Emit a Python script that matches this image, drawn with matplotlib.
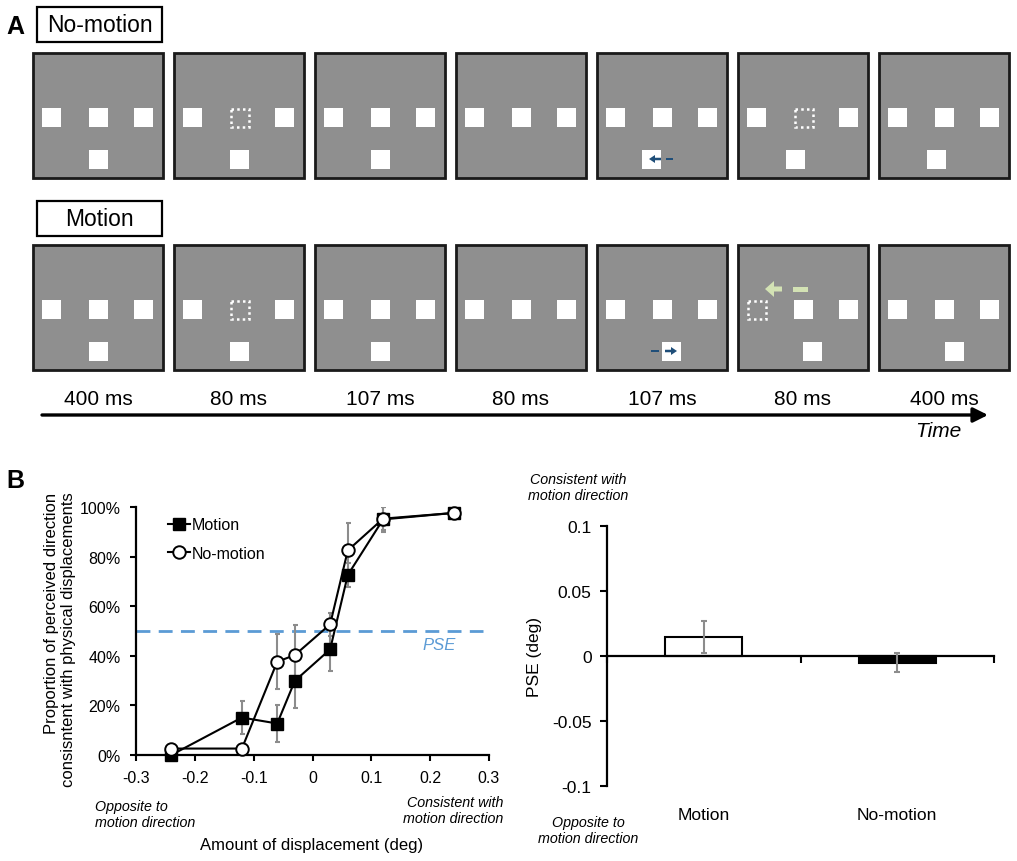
import numpy as np
import matplotlib
matplotlib.use("Agg")
import matplotlib.pyplot as plt
from matplotlib.patches import Rectangle, FancyArrow

plt.rcParams['font.family'] = ['Liberation Sans', 'DejaVu Sans']

# panel A: trial sequence
durations = ["400 ms", "80 ms", "107 ms", "80 ms", "107 ms", "80 ms", "400 ms"]
# S = solid square, D = dotted (blank) square for the left / mid / right slots
top_nomotion = ["SSS", "SDS", "SSS", "SSS", "SSS", "SDS", "SSS"]
top_motion = ["SSS", "SDS", "SSS", "SSS", "SSS", "DSS", "SSS"]
# shift of the lower square (px), None = no lower square
low_nomotion = [0, 0, 0, None, -11, -8, -8]
low_motion = [0, 0, 0, None, 9, 9, 10]

# panel B left: psychometric data
displacement = [-0.24, -0.12, -0.06, -0.03, 0.03, 0.06, 0.12, 0.24]
motion_prop = [0.0, 0.151, 0.127, 0.299, 0.426, 0.726, 0.950, 0.976]
motion_err = [0.005, 0.066, 0.074, 0.108, 0.086, 0.05, 0.05, 0.01]
nomotion_prop = [0.026, 0.026, 0.376, 0.403, 0.527, 0.825, 0.953, 0.976]
nomotion_err = [0.005, 0.005, 0.11, 0.12, 0.047, 0.112, 0.045, 0.01]
pse_level = 0.5
pse_span = (-0.3, 0.29)

# panel B right: PSE per condition
conditions = ["Motion", "No-motion"]
pse = [0.0148, -0.005]
pse_err = [0.0125, 0.0075]

W, H = 1017, 862
fig = plt.figure(figsize=(W / 100, H / 100), dpi=100)


def fpos(px, py):
    return px / W, 1 - py / H


# ---- panel A (pixel coordinates) ----
ax0 = fig.add_axes([0, 0, 1, 1])
ax0.set_xlim(0, W)
ax0.set_ylim(H, 0)
ax0.axis('off')

fx0, fstep, fw, fh = 33, 141, 130, 125
slot_x = [9, 56, 101]
sq = 19
top_y, low_y = 55, 97
gray = '#8f8f8f'
blue = '#1f4e79'
green = '#d3e2b4'


def draw_row(y0, tops, lows):
    for i in range(len(durations)):
        x0 = fx0 + i * fstep
        ax0.add_patch(Rectangle((x0, y0), fw, fh, fc=gray, ec='#1a1a1a', lw=2))
        for sx, c in zip(slot_x, tops[i]):
            if c == 'S':
                ax0.add_patch(Rectangle((x0 + sx, y0 + top_y), sq, sq, fc='white', ec='none'))
            else:
                ax0.add_patch(Rectangle((x0 + sx + 1, y0 + top_y + 1), sq - 1, sq - 1, fc='none',
                                        ec='white', lw=1.8, ls=(0, (1, 1.3))))
        if lows[i] is not None:
            ax0.add_patch(Rectangle((x0 + slot_x[1] + lows[i], y0 + low_y), sq, sq,
                                    fc='white', ec='none'))


row_y = [54, 246]
draw_row(row_y[0], top_nomotion, low_nomotion)
draw_row(row_y[1], top_motion, low_motion)

# small displacement arrows in frame 5
x5 = fx0 + 4 * fstep
ax0.add_patch(FancyArrow(x5 + 64, row_y[0] + 106, -12, 0, width=2.5, head_width=8, head_length=6,
                         length_includes_head=True, fc=blue, ec='none'))
ax0.add_patch(Rectangle((x5 + 69, row_y[0] + 104.8), 7, 2.5, fc=blue, ec='none'))
ax0.add_patch(Rectangle((x5 + 54, row_y[1] + 104.8), 8, 2.5, fc=blue, ec='none'))
ax0.add_patch(FancyArrow(x5 + 68, row_y[1] + 106, 12, 0, width=2.5, head_width=8, head_length=6,
                         length_includes_head=True, fc=blue, ec='none'))
# apparent motion arrow in frame 6 (motion row)
x6 = fx0 + 5 * fstep
ax0.add_patch(FancyArrow(x6 + 44, row_y[1] + 44, -17, 0, width=5, head_width=16, head_length=9,
                         length_includes_head=True, fc=green, ec='none'))
ax0.add_patch(Rectangle((x6 + 55, row_y[1] + 41.5), 15, 5, fc=green, ec='none'))

for i, d in enumerate(durations):
    ax0.text(fx0 + i * fstep + fw / 2, 400, d, ha='center', va='center', fontsize=15)

ax0.annotate('', xy=(988, 416), xytext=(42, 416),
             arrowprops=dict(arrowstyle='-|>', lw=2.4, color='black', mutation_scale=22,
                             shrinkA=0, shrinkB=0))
ax0.text(938, 432, 'Time', ha='center', va='center', fontsize=15, style='italic')

for (by, name) in [(8, 'No-motion'), (202, 'Motion')]:
    ax0.add_patch(Rectangle((37, by), 125, 35, fc='white', ec='black', lw=1.6))
    ax0.text(99.5, by + 18, name, ha='center', va='center', fontsize=16.5)

ax0.text(15, 27, 'A', ha='center', va='center', fontsize=18, fontweight='bold')
ax0.text(15, 481, 'B', ha='center', va='center', fontsize=18, fontweight='bold')

# ---- panel B left: psychometric curves ----
ax1 = fig.add_axes([136 / W, 1 - 756 / H, 353 / W, 248 / H])
egray = '#8c8c8c'
ax1.errorbar(displacement, motion_prop, yerr=motion_err, fmt='none', ecolor=egray,
             elinewidth=1.5, capsize=1.8, capthick=1.5, zorder=2)
ax1.errorbar(displacement, nomotion_prop, yerr=nomotion_err, fmt='none', ecolor=egray,
             elinewidth=1.5, capsize=1.8, capthick=1.5, zorder=2)
ax1.plot(pse_span, [pse_level, pse_level], color='#5b9bd5', lw=2, ls=(0, (5, 3)), zorder=1)
ax1.plot(displacement, motion_prop, '-s', color='black', mfc='black', ms=8.5, lw=1.5,
         clip_on=False, zorder=4, label='Motion')
ax1.plot(displacement, nomotion_prop, '-o', color='black', mfc='white', mew=1.4, ms=9, lw=1.5,
         clip_on=False, zorder=5, label='No-motion')
ax1.text(0.215, 0.445, 'PSE', color='#5b9bd5', fontsize=12, style='italic', ha='center', va='center')

ax1.set_xlim(-0.3, 0.3)
ax1.set_ylim(0, 1)
xt = [-0.3, -0.2, -0.1, 0, 0.1, 0.2, 0.3]
ax1.set_xticks(xt)
ax1.set_xticklabels(['-0.3', '-0.2', '-0.1', '0', '0.1', '0.2', '0.3'])
yt = [0, 0.2, 0.4, 0.6, 0.8, 1.0]
ax1.set_yticks(yt)
ax1.set_yticklabels(['%d%%' % round(v * 100) for v in yt])
for s in ['top', 'right']:
    ax1.spines[s].set_visible(False)
for s in ['left', 'bottom']:
    ax1.spines[s].set_linewidth(1.6)
ax1.tick_params(direction='out', length=4, width=1.5, labelsize=11.5, pad=7)
ax1.legend(loc='upper left', bbox_to_anchor=(0.072, 0.985), frameon=False, fontsize=11.5,
           handlelength=1.4, handletextpad=0.1, labelspacing=0.85, borderaxespad=0)

fig.text(*fpos(60, 640), 'Proportion of perceived direction\nconsisntent with physical displacements',
         rotation=90, ha='center', va='center', multialignment='right', fontsize=12,
         linespacing=1.2)
fig.text(*fpos(312, 846), 'Amount of displacement (deg)', ha='center', va='center', fontsize=12)
fig.text(*fpos(95, 815), 'Opposite to\nmotion direction', ha='left', va='center', fontsize=10.3,
         style='italic', linespacing=1.2)
fig.text(*fpos(503, 811), 'Consistent with\nmotion direction', ha='right', va='center',
         fontsize=10.3, style='italic', multialignment='right', linespacing=1.2)

# ---- panel B right: PSE bars ----
ax2 = fig.add_axes([607 / W, 1 - 787 / H, 387 / W, 260 / H])
xpos = np.arange(len(conditions)) + 0.5
ax2.bar(xpos, pse, width=0.4, color=['white', 'black'], edgecolor='black', lw=1.5, zorder=2)
ax2.errorbar(xpos, pse, yerr=pse_err, fmt='none', ecolor=egray, elinewidth=1.5, capsize=2,
             capthick=1.5, zorder=3)
ax2.set_xlim(0, len(conditions))
ax2.set_ylim(-0.1, 0.1)
ax2.spines['bottom'].set_position(('data', 0))
for s in ['top', 'right']:
    ax2.spines[s].set_visible(False)
for s in ['left', 'bottom']:
    ax2.spines[s].set_linewidth(1.6)
ax2.set_xticks(np.arange(len(conditions) + 1))
ax2.set_xticklabels([])
ax2.set_yticks([-0.1, -0.05, 0, 0.05, 0.1])
ax2.set_yticklabels(['-0.1', '-0.05', '0', '0.05', '0.1'])
ax2.tick_params(direction='out', length=5, width=1.5, labelsize=12.5, pad=6)
for x, c in zip(xpos, conditions):
    ax2.text(x, -0.108, c, transform=ax2.get_xaxis_transform(), ha='center', va='center',
             fontsize=12.5)

fig.text(*fpos(535, 657), 'PSE (deg)', rotation=90, ha='center', va='center', fontsize=12.5)
fig.text(*fpos(578, 488), 'Consistent with\nmotion direction', ha='center', va='center',
         fontsize=10.3, style='italic', linespacing=1.2)
fig.text(*fpos(588, 831), 'Opposite to\nmotion direction', ha='center', va='center',
         fontsize=10.3, style='italic', linespacing=1.2)

fig.savefig('out.png', dpi=100)
